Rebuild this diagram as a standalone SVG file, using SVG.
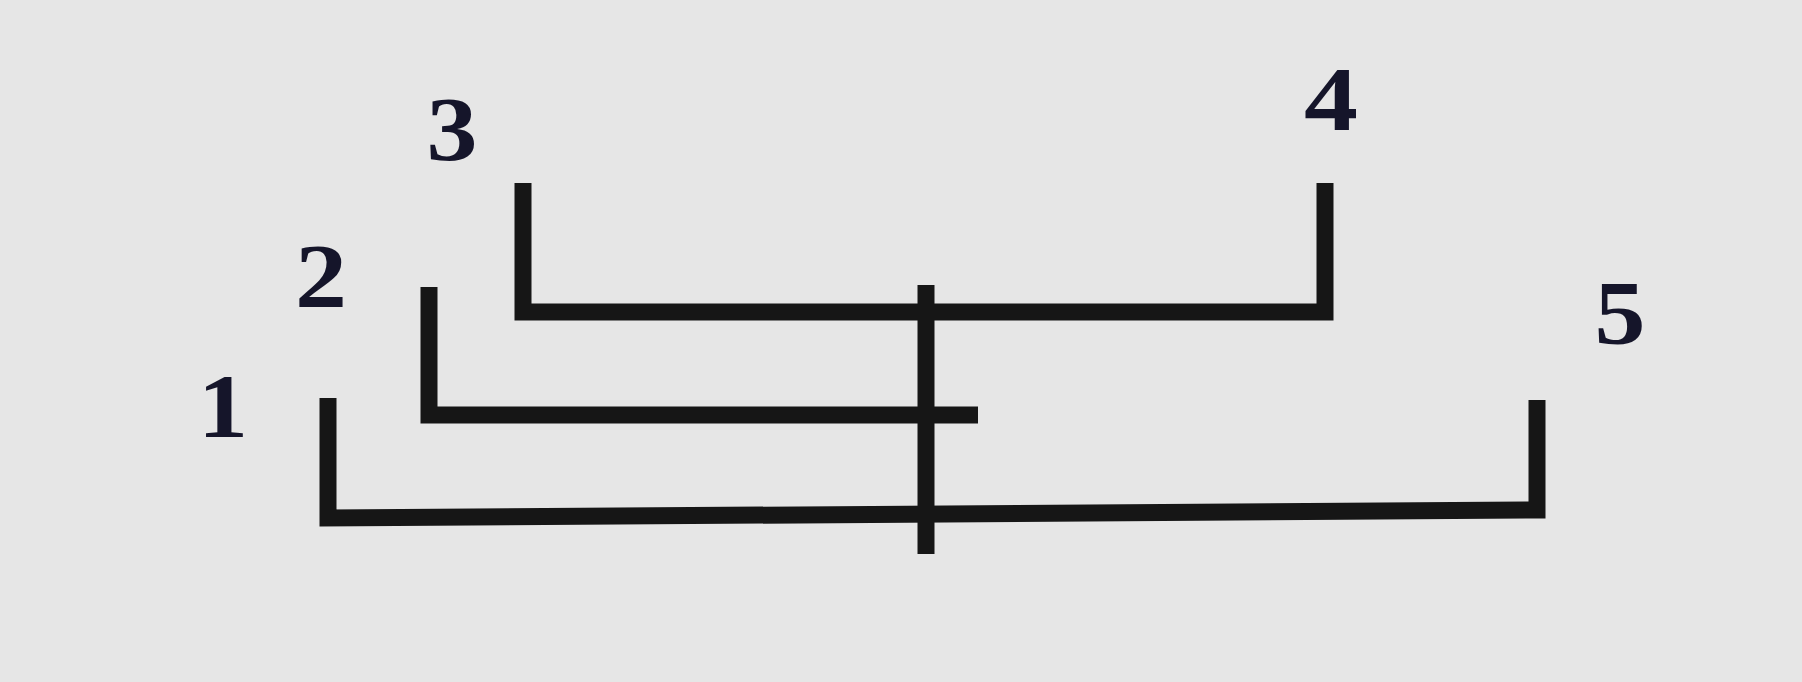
<svg xmlns="http://www.w3.org/2000/svg" width="1802" height="682" viewBox="0 0 1802 682">
  <style>
    .bg { fill: #e6e6e6; }
    .ln { fill: none; stroke: #161616; stroke-width: 17; stroke-linejoin: miter; stroke-linecap: butt; }
    .lbl { font-family: "Liberation Serif", "Times New Roman", serif; font-weight: bold; font-size: 92px; fill: #15152a; text-anchor: middle; }
  </style>
  <rect class="bg" x="0" y="0" width="1802" height="682"/>
  <g id="connectors">
    <path id="bracket-3-4" class="ln" d="M523,183 V312 H1325 V183"/>
    <path id="bracket-2" class="ln" d="M429,287 V415 H978"/>
    <path id="bracket-1-5" class="ln" d="M328,398 V518 L1537,510 V400"/>
    <path id="cross" class="ln" d="M926,285 V554"/>
  </g>
  <g id="node-1"><text class="lbl" x="223" y="437" textLength="50" lengthAdjust="spacingAndGlyphs">1</text></g>
  <g id="node-2"><text class="lbl" x="321" y="307" textLength="52" lengthAdjust="spacingAndGlyphs">2</text></g>
  <g id="node-3"><text class="lbl" x="452" y="160" textLength="51" lengthAdjust="spacingAndGlyphs">3</text></g>
  <g id="node-4"><text class="lbl" x="1331" y="130" textLength="54" lengthAdjust="spacingAndGlyphs">4</text></g>
  <g id="node-5"><text class="lbl" x="1620" y="344" textLength="51" lengthAdjust="spacingAndGlyphs">5</text></g>
</svg>
